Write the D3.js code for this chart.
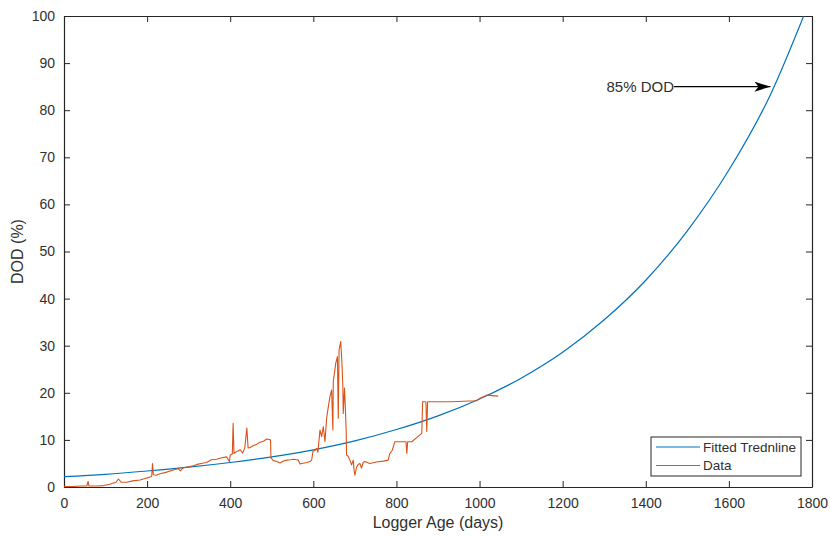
<!DOCTYPE html>
<html>
<head>
<meta charset="utf-8">
<script src="https://cdn.jsdelivr.net/npm/d3@7"></script>
<style>
  body { margin: 0; background: #fff; }
  text { font-family: "Liberation Sans", Arial, sans-serif; fill: #303030; }
  .axisGroup path, .axisGroup line { stroke: #262626; }
</style>
</head>
<body>
<div id="container"></div>
<script>
// fitted tredline, every 100 days
var trendDays = [0, 100, 200, 300, 400, 500, 600, 700, 800, 900, 1000, 1100, 1200, 1300, 1400, 1500, 1600, 1700, 1780];
var trendDod = [2.2, 2.7, 3.4, 4.2, 5.2, 6.4, 7.9, 9.8, 12.2, 15.1, 18.7, 23.1, 28.6, 35.5, 43.9, 54.4, 67.3, 83.3, 100];

// logger data
var dataDays = [0, 20, 40, 55, 58, 60, 80, 95, 110, 125, 131, 138, 151, 165, 183, 195, 207, 211, 213, 215,
  222, 231, 245, 263, 275, 280, 287, 300, 311, 320, 330, 343, 355, 367, 380, 391, 398, 400, 405, 407,
  409, 415, 424, 430, 435, 440, 443, 448, 456, 464, 472, 480, 488, 493, 497, 498, 504, 512, 520, 528,
  536, 545, 552, 560, 564, 568, 572, 584, 592, 596, 599, 604, 608, 611, 616, 620, 624, 628, 632, 636,
  640, 644, 647, 648, 651, 654, 658, 660, 662, 666, 669, 671, 672, 675, 677, 679, 680, 684, 688, 692,
  696, 698, 700, 704, 708, 712, 716, 720, 724, 736, 752, 768, 780, 784, 790, 796, 817, 823, 825, 827,
  837, 850, 861, 863, 869, 871, 873, 875, 930, 993, 1000, 1017, 1030, 1045];
var dataDod = [0.1, 0.1, 0.2, 0.2, 1.2, 0.2, 0.2, 0.3, 0.6, 1.0, 1.7, 1.0, 1.0, 1.3, 1.5, 1.8, 2.1, 2.3, 5.0, 2.6,
  2.5, 2.8, 3.1, 3.6, 3.9, 3.4, 4.1, 4.3, 4.5, 4.8, 5.0, 5.2, 5.8, 5.9, 6.2, 6.4, 5.4, 6.8, 7.0, 13.5,
  7.1, 7.5, 7.9, 7.2, 8.3, 12.5, 8.3, 8.4, 8.8, 9.1, 9.5, 9.7, 10.2, 10.1, 10.0, 6.2, 5.6, 5.4, 5.1, 5.5,
  5.7, 5.8, 5.9, 5.8, 5.7, 4.9, 5.0, 5.2, 5.4, 5.7, 7.6, 7.8, 8.2, 7.4, 12.1, 10.7, 12.8, 9.6, 14.6, 17.0,
  19.2, 20.6, 12.1, 22.4, 24.3, 26.3, 27.7, 14.6, 29.1, 30.9, 26.0, 21.3, 15.6, 21.0, 17.0, 12.0, 6.8, 6.5, 5.7, 4.7,
  5.7, 3.6, 2.5, 4.2, 4.8, 5.0, 4.0, 5.2, 5.4, 5.0, 5.3, 5.5, 5.7, 7.1, 7.8, 9.6, 9.6, 9.6, 7.1, 9.6,
  9.6, 10.6, 11.4, 18.1, 18.1, 18.0, 11.8, 18.1, 18.1, 18.3, 18.8, 19.5, 19.4, 19.3];

var xTicks = [0, 200, 400, 600, 800, 1000, 1200, 1400, 1600, 1800];
var yTicks = [0, 10, 20, 30, 40, 50, 60, 70, 80, 90, 100];
var seriesNames = ["Fitted Trednline", "Data"];
var seriesColors = ["#0072BD", "#D95319"];
var arrowFrom = [1468, 85];
var arrowTo = [1700, 85];

var width = 830, height = 538;
var margin = { top: 16, right: 18, bottom: 51, left: 64 };

var svg = d3.select("#container")
  .append("svg")
    .attr("width", width)
    .attr("height", height);

var x = d3.scaleLinear()
  .domain([0, 1800])
  .range([margin.left, width - margin.right]);
var y = d3.scaleLinear()
  .domain([0, 100])
  .range([height - margin.bottom, margin.top]);

svg.append("defs")
  .append("clipPath")
    .attr("id", "plotClip")
  .append("rect")
    .attr("x", margin.left)
    .attr("y", margin.top)
    .attr("width", x.range()[1] - margin.left)
    .attr("height", y.range()[0] - margin.top);

var marker = svg.select("defs")
  .append("marker")
    .attr("id", "arrowHead")
    .attr("viewBox", "0 0 16 10")
    .attr("refX", 16)
    .attr("refY", 5)
    .attr("markerWidth", 16)
    .attr("markerHeight", 10)
    .attr("markerUnits", "userSpaceOnUse")
    .attr("orient", "auto");
marker.append("path")
  .attr("d", "M0,0 L16,5 L0,10 L4,5 Z")
  .attr("fill", "#000");

// axes: MATLAB box with inward ticks on all four sides
function drawAxis(axis, transform, labels) {
  var g = svg.append("g")
    .classed("axisGroup", true)
    .attr("transform", transform)
    .call(axis.tickFormat(d3.format("d")));
  g.selectAll("text")
    .style("font-size", "14px")
    .style("display", labels ? null : "none");
  g.select(".domain").attr("stroke-width", 1.2);
  return g;
}

drawAxis(d3.axisBottom(x).tickValues(xTicks).tickSizeInner(-6).tickSizeOuter(0).tickPadding(11),
  "translate(0," + y(0) + ")", true);
drawAxis(d3.axisTop(x).tickValues(xTicks).tickSizeInner(-6).tickSizeOuter(0),
  "translate(0," + y(100) + ")", false);
drawAxis(d3.axisLeft(y).tickValues(yTicks).tickSizeInner(-6).tickSizeOuter(0).tickPadding(9),
  "translate(" + x(0) + ",0)", true);
drawAxis(d3.axisRight(y).tickValues(yTicks).tickSizeInner(-6).tickSizeOuter(0),
  "translate(" + x(1800) + ",0)", false);

svg.append("text")
  .attr("x", (x(0) + x(1800)) / 2)
  .attr("y", 528)
  .attr("text-anchor", "middle")
  .style("font-size", "16px")
  .text("Logger Age (days)");

svg.append("text")
  .attr("transform", "translate(23," + y(50) + ") rotate(-90)")
  .attr("text-anchor", "middle")
  .style("font-size", "16px")
  .text("DOD (%)");

// series
var plotGroup = svg.append("g")
  .attr("clip-path", "url(#plotClip)");

var trendLine = d3.line()
  .x(function(d, i) { return x(trendDays[i]); })
  .y(function(d) { return y(d); })
  .curve(d3.curveMonotoneX);

plotGroup.append("path")
  .attr("d", trendLine(trendDod))
  .attr("fill", "none")
  .attr("stroke", seriesColors[0])
  .attr("stroke-width", 1.2);

var dataLine = d3.line()
  .x(function(d, i) { return x(dataDays[i]); })
  .y(function(d) { return y(d); });

plotGroup.append("path")
  .attr("d", dataLine(dataDod))
  .attr("fill", "none")
  .attr("stroke", seriesColors[1])
  .attr("stroke-width", 1.1)
  .attr("stroke-linejoin", "round");

// 85% DOD annotation
svg.append("line")
  .attr("x1", x(arrowFrom[0]))
  .attr("y1", y(arrowFrom[1]))
  .attr("x2", x(arrowTo[0]))
  .attr("y2", y(arrowTo[1]))
  .attr("stroke", "#000")
  .attr("stroke-width", 1.2)
  .attr("marker-end", "url(#arrowHead)");

svg.append("text")
  .attr("x", x(arrowFrom[0]))
  .attr("y", y(arrowFrom[1]) + 5)
  .attr("text-anchor", "end")
  .style("font-size", "15px")
  .text("85% DOD");

// legend
var legend = svg.append("g")
  .attr("transform", "translate(651,437)");
legend.append("rect")
  .attr("width", 150)
  .attr("height", 39)
  .attr("fill", "#fff")
  .attr("stroke", "#262626")
  .attr("stroke-width", 1);
legend.selectAll(".legendItem")
    .data(seriesNames)
  .enter().append("g")
    .classed("legendItem", true)
    .attr("transform", function(d, i) { return "translate(0," + (10 + i * 18.5) + ")"; })
    .each(function(d, i) {
      var item = d3.select(this);
      item.append("line")
        .attr("x1", 5)
        .attr("x2", 49)
        .attr("stroke", seriesColors[i])
        .attr("stroke-width", 1.2);
      item.append("text")
        .attr("x", 52)
        .attr("y", 4.5)
        .style("font-size", "13.5px")
        .text(d);
    });
</script>
</body>
</html>
